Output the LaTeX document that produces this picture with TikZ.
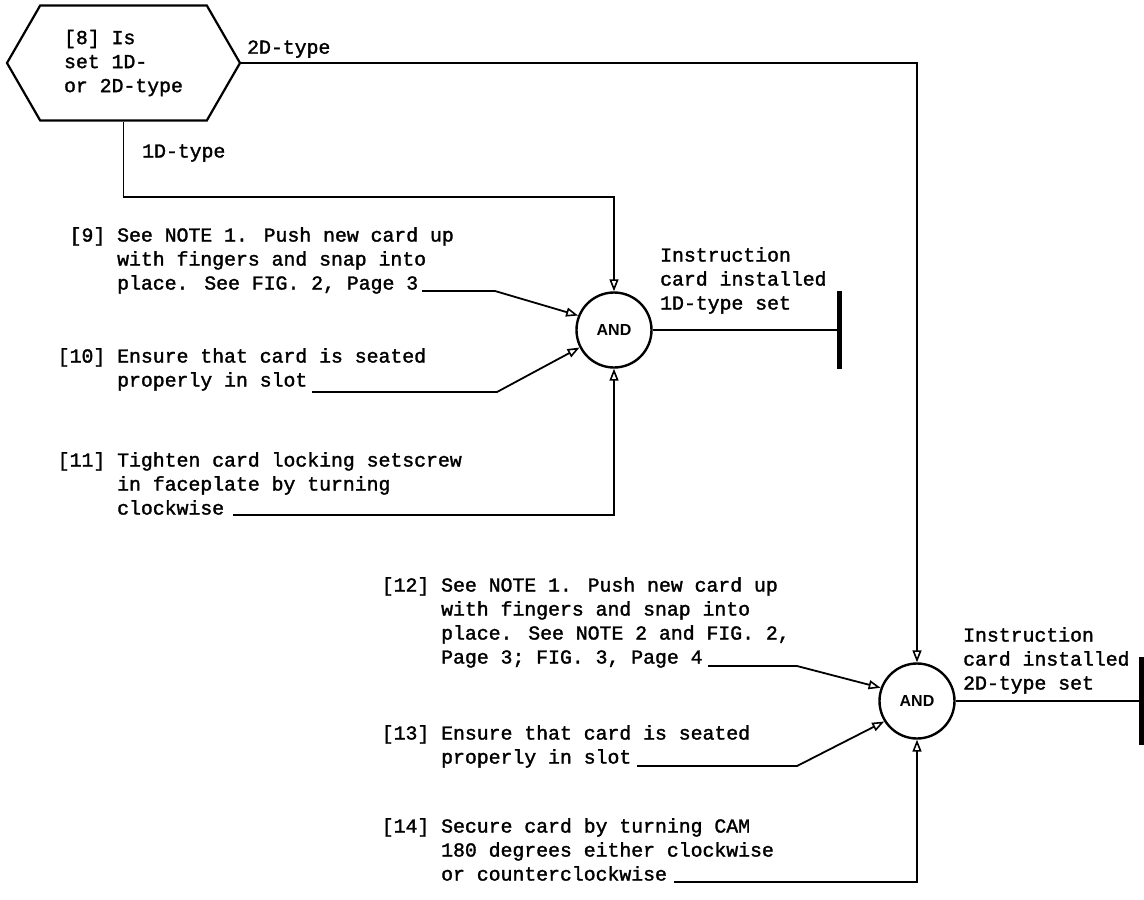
\documentclass[tikz,border=0pt]{standalone}
\usepackage{fontspec}
\newfontfamily\typefont{Liberation Mono}[FakeBold=1.6]
\newfontfamily\gatefont{Liberation Sans}
\usetikzlibrary{shapes.symbols,arrows.meta,positioning}

\tikzset{
  steptext/.style={anchor=north west, align=left, inner sep=0pt,
    font=\typefont\fontsize{19.8}{24}\selectfont},
  decision/.style={signal, signal to=east and west, signal pointer angle=120,
    draw, line width=2.2pt, minimum width=233pt, minimum height=115pt,
    inner sep=0pt, align=left, font=\typefont\fontsize{19.8}{24}\selectfont},
  andgate/.style={circle, draw, line width=2.4pt, minimum size=75pt, inner sep=0pt,
    font=\gatefont\bfseries\fontsize{16}{16}\selectfont},
  wire/.style={line width=1.8pt},
  flow/.style={wire, -{Triangle[open, length=12pt, width=9pt, line width=1.6pt]}},
  endbar/.style={line width=5pt}
}

\begin{document}
\begin{tikzpicture}[x=1pt, y=-1pt]
  \useasboundingbox (0,0) rectangle (1144,900);

  % Decision
  \node[decision] (q8) at (123.5,63) {[8] Is\\set 1D-\\or 2D-type};

  % AND gates
  \node[andgate] (and1) at (614,330) {AND};
  \node[andgate] (and2) at (917,701) {AND};

  % Branches from the decision
  \draw[flow] (q8.east) -- (q8.east -| and2) -- (and2.north);
  \node[steptext, anchor=south west] (lab2d) at (247,58) {2D-type};
  \draw[flow] (q8.south) -- ++(0,75) -| (and1.north);
  \node[steptext, anchor=west] (lab1d) at (142,153) {1D-type};

  % Steps for 1D-type set
  \node[steptext] (s9) at (117,227) {\llap{[9] }See NOTE 1. Push new card up\\with fingers and snap into\\place. See FIG. 2, Page 3};
  \node[steptext] (s10) at (117,348) {\llap{[10] }Ensure that card is seated\\properly in slot};
  \node[steptext] (s11) at (117,452) {\llap{[11] }Tighten card locking setscrew\\in faceplate by turning\\clockwise};
  \coordinate (s9e) at (422,291);
  \coordinate (s10e) at (312,392);
  \coordinate (s11e) at (233,515);
  \draw[flow] (s9e) -- (495,291) -- (and1.158);
  \draw[flow] (s10e) -- (497,392) -- (and1.207);
  \draw[flow] (s11e) -| (and1.south);

  % Result 1D-type
  \node[steptext] (out1) at (660,247) {Instruction\\card installed\\1D-type set};
  \coordinate (end1) at (839,330);
  \draw[wire] (and1.east) -- (end1);
  \draw[endbar] (end1) ++(0,-39) -- ++(0,78);

  % Steps for 2D-type set
  \node[steptext] (s12) at (441,577) {\llap{[12] }See NOTE 1. Push new card up\\with fingers and snap into\\place. See NOTE 2 and FIG. 2,\\Page 3; FIG. 3, Page 4};
  \node[steptext] (s13) at (441,725) {\llap{[13] }Ensure that card is seated\\properly in slot};
  \node[steptext] (s14) at (441,818) {\llap{[14] }Secure card by turning CAM\\180 degrees either clockwise\\or counterclockwise};
  \coordinate (s12e) at (708,666);
  \coordinate (s13e) at (637,766);
  \coordinate (s14e) at (674,882);
  \draw[flow] (s12e) -- (797,666) -- (and2.160);
  \draw[flow] (s13e) -- (797,766) -- (and2.212);
  \draw[flow] (s14e) -| (and2.south);

  % Result 2D-type
  \node[steptext] (out2) at (963,627) {Instruction\\card installed\\2D-type set};
  \coordinate (end2) at (1141.5,701);
  \draw[wire] (and2.east) -- (end2);
  \draw[endbar] (end2) ++(0,-44) -- ++(0,88);
\end{tikzpicture}
\end{document}
